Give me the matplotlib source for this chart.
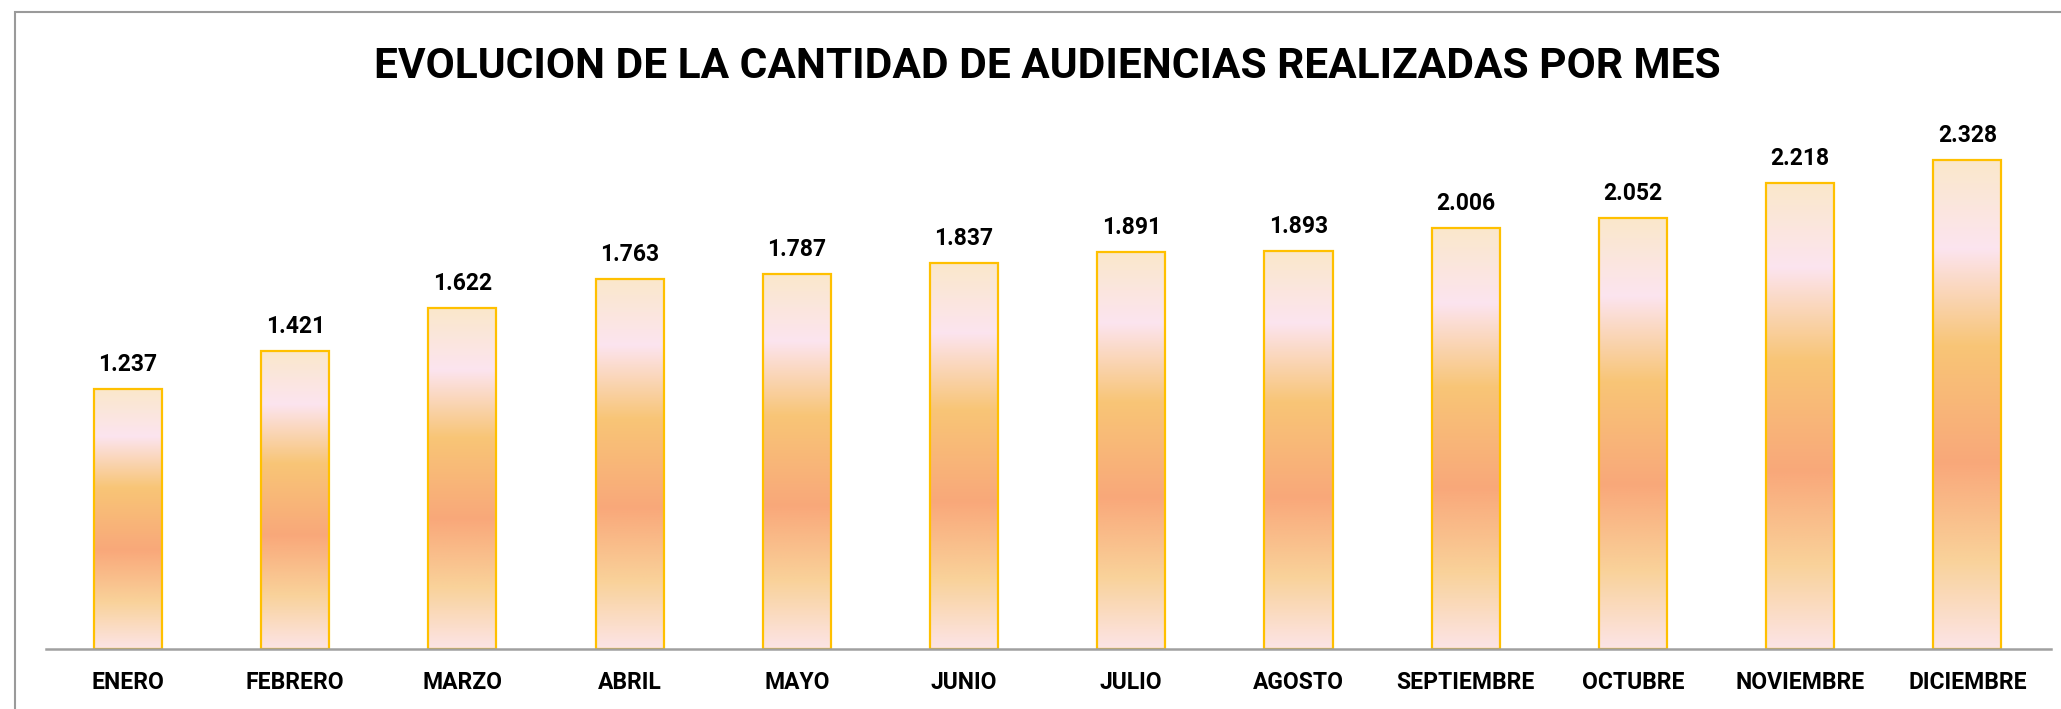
import numpy as np
import matplotlib
matplotlib.use("Agg")
import matplotlib.pyplot as plt
from matplotlib.colors import LinearSegmentedColormap
from matplotlib.patches import Rectangle

MESES = ["ENERO", "FEBRERO", "MARZO", "ABRIL", "MAYO", "JUNIO", "JULIO",
         "AGOSTO", "SEPTIEMBRE", "OCTUBRE", "NOVIEMBRE", "DICIEMBRE"]
AUDIENCIAS = [1237, 1421, 1622, 1763, 1787, 1837, 1891, 1893, 2006, 2052, 2218, 2328]
ETIQUETAS = ["1.237", "1.421", "1.622", "1.763", "1.787", "1.837", "1.891",
             "1.893", "2.006", "2.052", "2.218", "2.328"]

TITULO = "EVOLUCION DE LA CANTIDAD DE AUDIENCIAS REALIZADAS POR MES"

# gradient stops, bottom (0) -> top (1)
GRAD = LinearSegmentedColormap.from_list("bar", [
    (0.00, "#FCE4E6"),
    (0.18, "#F9D29A"),
    (0.38, "#F9A87A"),
    (0.62, "#F8C576"),
    (0.82, "#FCE4EF"),
    (1.00, "#FAE8CB"),
])

FONT = "Roboto"
BAR_W = 0.407

fig = plt.figure(figsize=(20.61, 7.09), dpi=100)
W, H = 2061, 709

# outer chart frame (only top and left edges fall inside the image)
fig.patches.append(Rectangle((15 / W, -0.1), 1.2, (H - 12) / H + 0.1,
                             transform=fig.transFigure, fill=False,
                             edgecolor="#9a9a9a", lw=1.5))

ax = fig.add_axes([46 / W, 60 / H, (2051 - 46) / W, (649 - 103) / H])
x = np.arange(len(MESES))
grad = np.linspace(0, 1, 256).reshape(-1, 1)

for xi, v in zip(x, AUDIENCIAS):
    ax.imshow(grad, cmap=GRAD, origin="lower", aspect="auto",
              extent=(xi - BAR_W / 2, xi + BAR_W / 2, 0, v), zorder=2)

ax.bar(x, AUDIENCIAS, width=BAR_W, fill=False, edgecolor="#FFC000", lw=1.6, zorder=3)

for xi, v, lab in zip(x, AUDIENCIAS, ETIQUETAS):
    ax.annotate(lab, (xi, v), xytext=(0, 13), textcoords="offset points",
                ha="center", va="baseline", fontsize=16.5, fontweight="bold",
                family=FONT, color="black")

ax.set_xlim(-0.49, 11.5)
ax.set_ylim(0, 2600)
ax.set_xticks(x)
ax.set_xticklabels(MESES, fontsize=16.5, fontweight="bold", family=FONT)
ax.tick_params(axis="x", length=0, pad=15.5)
ax.set_yticks([])
for s in ["top", "right", "left"]:
    ax.spines[s].set_visible(False)
ax.spines["bottom"].set_color("#a0a0a0")
ax.spines["bottom"].set_linewidth(1.8)
ax.spines["bottom"].set_zorder(4)
ax.patch.set_alpha(0)

fig.text(1047 / W, 1 - 66 / H, TITULO, ha="center", va="center",
         fontsize=30.5, fontweight="bold", family=FONT)

fig.savefig("out.png", dpi=100, facecolor="white")
